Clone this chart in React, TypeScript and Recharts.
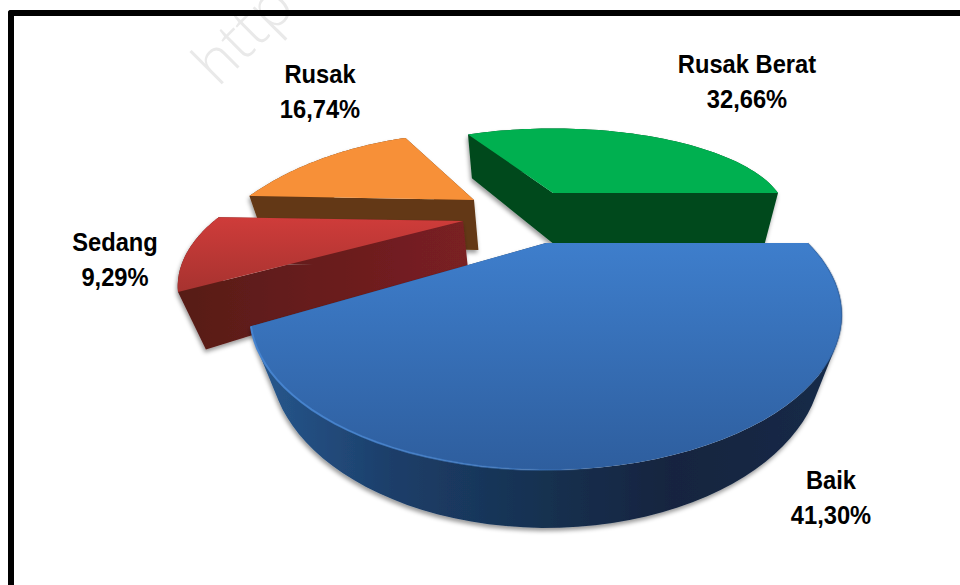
import { Pie, PieChart } from 'recharts'

const sliceNames = ['Rusak Berat', 'Rusak', 'Sedang', 'Baik']
const sliceValues = [32.66, 16.74, 9.29, 41.3]
const topFills = ['#00b050', '#f79038', 'url(#redTop)', 'url(#blueTop)']
const sideFills = ['#00491f', '#643813', 'url(#redSide)', 'url(#blueSide)']

// Each slice is exploded, so it gets its own apex and perspective on the tilted disc
const slicePerspective = [
  { ax: 553, ay: 193, a: 225, b: 81, k: 0.255, depth: 0.058 },
  { ax: 474, ay: 200, a: 230, b: 109, k: 0.626, depth: 0.058 },
  { ax: 463, ay: 221, a: 249, b: 102, k: 0.488, depth: 0.056 },
  { ax: 546, ay: 243, a: 262, b: 121.6, k: 0.4645, depth: 0.0525 },
]
const labelAnchors = [
  { x: 747, y: 73 },
  { x: 320, y: 83 },
  { x: 115, y: 251 },
  { x: 831, y: 489 },
]

const VANISH_X = 550
const VANISH_Y = 1060
const ARC_STEPS = 64

const chartData = sliceNames.map((name, i) => ({ name, value: sliceValues[i] }))

type Pt = [number, number, number]

function projector(index: number) {
  const { ax, ay, a, b, k, depth } = slicePerspective[index]
  const top = (deg: number): Pt => {
    const rad = (deg * Math.PI) / 180
    const u = Math.cos(rad)
    const v = -Math.sin(rad)
    const w = 1 - k * v
    return [ax + (a * u) / w, ay + (b * v) / w, w]
  }
  // Extruded points slide toward the vanishing point, less so further from the viewer
  const drop = (p: Pt): Pt => {
    const f = depth / p[2]
    return [p[0] + (VANISH_X - p[0]) * f, p[1] + (VANISH_Y - p[1]) * f, p[2]]
  }
  return { top, drop, apex: [ax, ay, 1] as Pt }
}

const toLine = (pts: Pt[]) =>
  pts.map((p, i) => `${i ? 'L' : 'M'}${p[0].toFixed(1)} ${p[1].toFixed(1)}`).join(' ')

// Wall quads all wind the same way so the nonzero fill never punches holes where they overlap
function wallQuad(p: Pt, q: Pt, drop: (p: Pt) => Pt) {
  const pts = [p, q, drop(q), drop(p)]
  let area = 0
  pts.forEach((a, i) => {
    const b = pts[(i + 1) % 4]
    area += a[0] * b[1] - b[0] * a[1]
  })
  return toLine(area < 0 ? pts.reverse() : pts) + ' Z'
}

function Slice3D(props: any) {
  const { startAngle, endAngle, index } = props
  const { top, drop, apex } = projector(index)
  const arc: Pt[] = []
  for (let i = 0; i <= ARC_STEPS; i++) {
    arc.push(top(startAngle + ((endAngle - startAngle) * i) / ARC_STEPS))
  }
  const walls = arc.slice(1).map((p, i) => wallQuad(arc[i], p, drop))
  walls.push(wallQuad(apex, arc[0], drop), wallQuad(apex, arc[ARC_STEPS], drop))

  return (
    <g>
      <path d={walls.join(' ')} fill={sideFills[index]} filter="url(#softShadow)" />
      <path d={toLine([apex, ...arc]) + ' Z'} fill={topFills[index]} />
      {index === 3 && <path d={toLine(arc)} fill="none" stroke="url(#blueRim)" strokeWidth={2} />}
    </g>
  )
}

function SliceLabel(props: any) {
  const { index } = props
  const { x, y } = labelAnchors[index]
  const percent = `${sliceValues[index].toFixed(2).replace('.', ',')}%`
  const lines = [sliceNames[index], percent]
  return (
    <g>
      {lines.map((line, i) => (
        <text
          key={line}
          transform={`translate(${x} ${y + i * 35}) scale(0.93 1)`}
          textAnchor="middle"
          fontFamily="'Liberation Sans', Arial, sans-serif"
          fontWeight="bold"
          fontSize={25.5}
          fill="#000"
        >
          {line}
        </text>
      ))}
    </g>
  )
}

export default function App() {
  return (
    <div style={{ position: 'absolute', left: 0, top: 0, width: 960, height: 585, overflow: 'hidden', background: '#fff' }}>
      <svg width={960} height={585} style={{ position: 'absolute', left: 0, top: 0 }}>
        <text
          transform="translate(218 88) rotate(-45)"
          fontFamily="'Open Sans', sans-serif"
          fontWeight={300}
          fontSize={60}
          fill="#e9e9e9"
        >
          http
        </text>
      </svg>
      <div
        style={{
          position: 'absolute',
          left: 8,
          top: 10,
          width: 960,
          height: 600,
          borderLeft: '6px solid #000',
          borderTop: '6px solid #000',
          borderTopLeftRadius: 3,
        }}
      />
      <div style={{ position: 'absolute', left: 0, top: 0 }}>
        <PieChart width={960} height={585}>
          <defs>
            <linearGradient id="blueTop" gradientUnits="userSpaceOnUse" x1="0" y1="243" x2="0" y2="470">
              <stop offset="0" stopColor="#3e7ecc" />
              <stop offset="1" stopColor="#2e5e9e" />
            </linearGradient>
            <linearGradient id="blueSide" gradientUnits="userSpaceOnUse" x1="270" y1="0" x2="830" y2="0">
              <stop offset="0" stopColor="#26558a" />
              <stop offset="0.22" stopColor="#1c3e69" />
              <stop offset="0.5" stopColor="#16304f" />
              <stop offset="0.72" stopColor="#13243f" />
              <stop offset="1" stopColor="#152a47" />
            </linearGradient>
            <linearGradient id="blueRim" gradientUnits="userSpaceOnUse" x1="250" y1="0" x2="843" y2="0">
              <stop offset="0" stopColor="#4684d0" />
              <stop offset="0.4" stopColor="#4684d0" stopOpacity={0.6} />
              <stop offset="0.6" stopColor="#4684d0" stopOpacity={0} />
              <stop offset="0.9" stopColor="#24508a" stopOpacity={0} />
              <stop offset="1" stopColor="#24508a" stopOpacity={0.3} />
            </linearGradient>
            <linearGradient id="redTop" gradientUnits="userSpaceOnUse" x1="0" y1="217" x2="0" y2="295">
              <stop offset="0" stopColor="#cf3c3a" />
              <stop offset="1" stopColor="#a5322f" />
            </linearGradient>
            <linearGradient id="redSide" gradientUnits="userSpaceOnUse" x1="180" y1="0" x2="467" y2="0">
              <stop offset="0" stopColor="#571a17" />
              <stop offset="1" stopColor="#7a2023" />
            </linearGradient>
            <filter id="softShadow" x="-10%" y="-10%" width="120%" height="125%">
              <feDropShadow dx="-1" dy="3" stdDeviation="2" floodColor="#000" floodOpacity="0.4" />
            </filter>
          </defs>
          <Pie
            data={chartData}
            dataKey="value"
            nameKey="name"
            cx={480}
            cy={290}
            outerRadius={200}
            startAngle={0}
            endAngle={360}
            stroke="none"
            isAnimationActive={false}
            shape={Slice3D}
            activeShape={Slice3D}
            label={SliceLabel}
            labelLine={false}
          />
        </PieChart>
      </div>
    </div>
  )
}
